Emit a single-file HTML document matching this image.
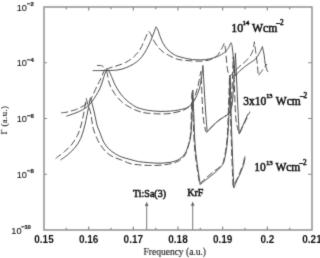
<!DOCTYPE html>
<html><head><meta charset="utf-8"><style>
html,body{margin:0;padding:0;background:#fff;}
body{width:320px;height:258px;overflow:hidden;}
svg{display:block;}
.sans{font-family:"Liberation Sans",sans-serif;font-size:10px;fill:#111;font-weight:bold;}
.ex{font-size:6px;stroke:#222;stroke-width:0.2px;}
.yl{font-weight:normal;font-size:9.2px;stroke:#222;stroke-width:0.12px;}
.serif{font-family:"Liberation Serif",serif;fill:#111;stroke:#111;stroke-width:0.5px;}
svg{filter:grayscale(1);}
</style></head><body>
<svg width="320" height="258" viewBox="0 0 320 258">
<defs><filter id="bl" x="-5%" y="-5%" width="110%" height="110%"><feConvolveMatrix order="3" kernelMatrix="0.0144 0.0912 0.0144 0.0912 0.5776 0.0912 0.0144 0.0912 0.0144" divisor="1" edgeMode="duplicate"/></filter></defs>
<rect x="0" y="0" width="320" height="258" fill="#fff"/>
<g filter="url(#bl)">
<rect x="44" y="7" width="268" height="223" fill="none" stroke="#8a8a8a" stroke-width="1.4"/>
<path d="M66.33 230 V227.80 M66.33 7 V9.20 M88.67 230 V226.50 M88.67 7 V10.50 M111.00 230 V227.80 M111.00 7 V9.20 M133.33 230 V226.50 M133.33 7 V10.50 M155.67 230 V227.80 M155.67 7 V9.20 M178.00 230 V226.50 M178.00 7 V10.50 M200.33 230 V227.80 M200.33 7 V9.20 M222.67 230 V226.50 M222.67 7 V10.50 M245.00 230 V227.80 M245.00 7 V9.20 M267.33 230 V226.50 M267.33 7 V10.50 M289.67 230 V227.80 M289.67 7 V9.20 M44 62.75 H47 M312 62.75 H308 M44 118.50 H47 M312 118.50 H308 M44 174.25 H47 M312 174.25 H308" stroke="#8a8a8a" stroke-width="1.2" fill="none"/>
<g class="sans"><text x="44.00" y="242.5" text-anchor="middle">0.15</text><text x="88.67" y="242.5" text-anchor="middle">0.16</text><text x="133.33" y="242.5" text-anchor="middle">0.17</text><text x="178.00" y="242.5" text-anchor="middle">0.18</text><text x="222.67" y="242.5" text-anchor="middle">0.19</text><text x="267.33" y="242.5" text-anchor="middle">0.2</text><text x="312.00" y="242.5" text-anchor="middle">0.21</text><text x="26.90" y="10.60" text-anchor="end" class="yl">10</text><text x="27.10" y="6.00" class="ex">&#8722;2</text><text x="26.90" y="66.35" text-anchor="end" class="yl">10</text><text x="27.10" y="61.75" class="ex">&#8722;4</text><text x="26.90" y="122.10" text-anchor="end" class="yl">10</text><text x="27.10" y="117.50" class="ex">&#8722;6</text><text x="26.90" y="177.85" text-anchor="end" class="yl">10</text><text x="27.10" y="173.25" class="ex">&#8722;8</text><text x="21.60" y="233.60" text-anchor="end" class="yl">10</text><text x="21.30" y="229.00" class="ex" letter-spacing="-0.3">&#8722;10</text></g>
<path d="M92.8 70.6 C95.3 70.6 103.8 70.6 108.0 70.5 C112.2 70.4 115.0 70.4 118.0 69.9 C121.0 69.5 123.2 68.8 125.8 67.8 C128.4 66.8 131.2 65.4 133.5 64.0 C135.8 62.6 137.9 61.1 139.7 59.3 C141.5 57.5 143.0 55.3 144.4 53.1 C145.8 50.9 147.0 48.8 148.3 46.1 C149.6 43.4 151.1 39.9 152.4 36.7 C153.7 33.5 155.4 28.5 156.0 26.8 C156.3 27.3 157.1 28.1 157.8 29.8 C158.5 31.4 159.3 34.4 160.2 36.7 C161.1 39.0 162.0 41.5 163.3 43.7 C164.6 45.9 166.1 48.1 167.9 49.9 C169.7 51.7 172.1 53.4 174.1 54.6 C176.1 55.8 177.5 56.2 180.0 56.9 C182.5 57.6 186.3 58.5 189.0 59.0 C191.7 59.5 193.2 59.7 196.0 59.8 C198.8 59.9 202.5 60.0 205.7 59.6 C208.9 59.2 212.5 58.3 215.4 57.3 C218.3 56.3 221.1 54.8 223.2 53.4 C225.3 52.0 226.9 50.0 228.0 48.6 C229.1 47.2 229.3 46.0 229.8 45.0 C230.3 44.0 230.8 43.1 231.0 42.7 C231.2 43.2 231.7 43.8 232.0 45.6 C232.3 47.4 232.6 50.5 232.9 53.4 C233.2 56.3 233.5 59.3 233.9 63.1 C234.3 66.9 235.2 73.8 235.5 76.0 C235.9 75.5 237.1 73.8 238.0 72.8 C238.9 71.8 239.7 70.9 241.0 69.8 C242.3 68.7 244.1 67.2 245.7 66.0 C247.3 64.8 248.9 63.7 250.5 62.6 C252.1 61.5 253.9 60.7 255.4 59.2 C256.9 57.7 258.4 54.9 259.3 53.4 C260.2 51.9 260.5 51.1 261.0 50.0 C261.5 48.9 262.2 47.2 262.4 46.6 C262.7 48.1 263.8 52.6 264.2 55.4 C264.6 58.1 264.6 60.7 265.1 63.1 C265.6 65.5 266.5 68.5 267.0 70.0 C267.5 71.5 268.0 71.7 268.2 72.0" fill="none" stroke="#4d4d4d" stroke-width="1"/>
<path d="M97.0 65.4 C97.8 65.5 100.4 65.4 101.5 65.7 C102.6 66.0 103.0 66.7 103.8 67.2 C104.5 67.8 105.2 68.8 106.0 69.0 C106.8 69.2 107.5 68.7 108.5 68.4 C109.5 68.1 110.4 67.7 112.0 67.2 C113.6 66.7 115.7 66.2 118.0 65.4 C120.3 64.6 123.2 63.8 125.8 62.4 C128.4 61.0 131.2 59.1 133.5 57.0 C135.8 54.9 138.0 52.5 139.7 50.0 C141.4 47.5 142.5 44.4 143.6 42.2 C144.7 40.0 145.3 38.3 146.0 36.8 C146.7 35.3 147.1 33.9 147.5 33.0 C147.9 32.1 148.2 31.5 148.6 31.5 C149.0 31.5 149.5 32.0 150.0 32.8 C150.5 33.5 150.8 34.4 151.6 36.0 C152.4 37.6 153.5 40.3 154.7 42.2 C155.9 44.1 157.2 45.9 158.6 47.6 C160.0 49.3 161.6 50.9 163.3 52.2 C165.0 53.5 166.9 54.3 168.7 55.3 C170.5 56.3 172.2 57.2 174.1 58.0 C176.0 58.8 177.5 59.3 180.0 59.8 C182.5 60.2 185.8 60.5 189.0 60.7 C192.2 60.9 196.6 61.2 199.4 61.2 C202.2 61.2 204.0 60.9 206.0 60.6 C208.0 60.3 209.6 60.1 211.5 59.2 C213.4 58.3 215.8 57.0 217.4 55.4 C219.0 53.8 220.3 51.0 221.2 49.5 C222.1 48.0 222.3 47.5 222.8 46.5 C223.3 45.5 224.0 43.8 224.2 43.2 C224.4 44.2 225.0 45.1 225.5 49.4 C226.0 53.6 226.7 64.2 227.4 68.7 C228.1 73.2 229.2 75.2 229.6 76.5 C230.2 75.9 231.4 74.6 233.0 73.0 C234.6 71.4 237.2 68.6 238.9 67.0 C240.6 65.4 241.5 64.8 243.0 63.5 C244.5 62.2 246.4 60.5 247.7 59.2 C248.9 57.9 249.7 56.8 250.5 55.5 C251.3 54.2 252.0 52.9 252.5 51.5 C253.0 50.1 253.3 48.6 253.6 47.0 C253.9 45.4 254.3 42.7 254.4 41.8 C254.6 43.1 254.9 45.6 255.4 49.5 C255.9 53.4 256.9 60.6 257.4 65.0 C257.9 69.4 258.1 73.9 258.3 75.7 C259.0 74.8 261.1 72.0 262.5 70.0 C263.9 68.0 266.2 65.0 267.0 64.0" fill="none" stroke="#4d4d4d" stroke-width="1" stroke-dasharray="7 3"/>
<path d="M66.3 116.2 C67.3 115.8 70.3 114.9 72.5 114.1 C74.7 113.3 77.1 112.5 79.4 111.4 C81.7 110.3 84.2 108.9 86.3 107.3 C88.4 105.7 90.2 103.7 91.8 101.8 C93.4 99.8 94.6 97.7 95.9 95.6 C97.2 93.5 98.6 91.4 99.7 89.0 C100.8 86.6 101.7 83.6 102.6 81.0 C103.5 78.4 104.2 75.3 105.0 73.3 C105.8 71.3 107.1 69.9 107.5 69.2 C107.8 69.7 108.8 70.8 109.5 72.0 C110.2 73.2 110.9 75.2 111.5 76.5 C112.1 77.8 112.4 78.5 113.0 80.0 C113.6 81.5 114.1 83.1 115.3 85.3 C116.5 87.5 118.2 90.5 120.0 93.0 C121.8 95.5 124.1 98.0 126.2 100.0 C128.3 102.0 130.4 103.4 132.4 104.7 C134.4 106.0 135.3 106.8 138.0 107.8 C140.7 108.8 144.7 109.8 148.4 110.4 C152.1 111.0 156.3 111.3 160.0 111.4 C163.7 111.5 167.5 111.3 170.6 111.1 C173.7 110.9 175.8 110.5 178.4 110.0 C181.0 109.5 184.2 108.9 186.2 108.0 C188.3 107.1 189.7 106.0 191.0 104.8 C192.3 103.6 193.0 102.7 194.0 101.0 C195.0 99.3 196.3 96.9 197.2 94.7 C198.1 92.5 198.8 90.8 199.5 88.0 C200.2 85.2 200.9 81.8 201.5 78.0 C202.1 74.2 202.7 67.5 202.9 65.4 C203.1 68.7 203.6 77.6 204.0 85.0 C204.4 92.4 205.0 102.2 205.5 110.0 C206.0 117.8 206.9 128.3 207.2 132.0 C207.8 131.2 209.5 129.2 211.1 127.5 C212.7 125.8 215.1 123.5 217.0 121.8 C218.9 120.1 220.9 119.0 222.8 117.6 C224.7 116.2 227.1 115.7 228.6 113.6 C230.1 111.5 231.1 110.6 232.0 105.0 C232.9 99.4 233.4 88.7 234.0 80.0 C234.6 71.3 235.2 57.5 235.4 53.0 C235.6 56.7 236.1 67.8 236.4 75.0 C236.7 82.2 237.0 89.3 237.3 96.0 C237.6 102.7 237.9 108.7 238.2 115.0 C238.5 121.3 239.0 130.8 239.2 134.0 C239.9 132.3 242.0 127.3 243.5 124.0 C245.0 120.7 247.2 115.7 248.0 114.0" fill="none" stroke="#4d4d4d" stroke-width="1"/>
<path d="M61.3 112.8 C62.1 112.7 64.5 112.5 66.0 112.3 C67.5 112.0 68.2 111.8 70.0 111.3 C71.8 110.8 74.3 110.2 76.6 109.3 C78.8 108.4 81.5 107.0 83.5 105.8 C85.5 104.6 87.3 103.4 88.5 102.3 C89.7 101.2 90.0 100.7 90.8 99.3 C91.6 97.9 92.3 96.1 93.4 93.8 C94.5 91.5 96.0 88.2 97.2 85.7 C98.4 83.2 99.5 81.4 100.6 79.0 C101.7 76.6 103.1 73.0 104.0 71.2 C104.9 69.5 105.7 69.0 106.0 68.5 C106.2 69.3 106.8 71.4 107.2 73.5 C107.7 75.6 108.1 78.8 108.7 81.0 C109.3 83.2 109.6 84.6 110.7 86.9 C111.8 89.2 113.5 92.1 115.3 94.6 C117.1 97.0 119.2 99.5 121.5 101.6 C123.8 103.7 126.6 105.4 129.3 107.0 C132.1 108.6 135.2 110.0 138.0 111.0 C140.8 112.0 142.5 112.5 146.0 113.0 C149.5 113.5 154.9 113.8 159.0 113.9 C163.1 114.0 166.6 114.0 170.6 113.4 C174.6 112.8 179.9 111.5 183.0 110.3 C186.1 109.1 187.7 108.0 189.4 106.4 C191.1 104.9 191.8 103.6 193.0 101.0 C194.2 98.4 195.7 94.2 196.7 91.0 C197.7 87.8 198.1 85.2 198.8 82.0 C199.5 78.8 200.5 73.2 200.8 71.5 C200.9 72.9 200.9 72.8 201.3 80.0 C201.7 87.2 202.3 106.5 203.0 115.0 C203.7 123.5 205.2 128.3 205.6 131.0 C205.9 131.2 206.3 132.6 207.2 132.0 C208.1 131.4 209.5 129.2 211.1 127.5 C212.7 125.8 215.1 123.5 217.0 121.8 C218.9 120.1 221.0 118.9 222.8 117.6 C224.6 116.3 226.6 115.9 228.0 114.0 C229.4 112.1 230.3 110.8 231.0 106.0 C231.7 101.2 231.8 93.2 232.2 85.0 C232.6 76.8 233.0 61.7 233.2 57.0 C233.4 62.5 234.0 79.5 234.5 90.0 C235.0 100.5 235.2 112.7 236.0 120.0 C236.8 127.3 238.8 131.4 239.4 133.7 C240.3 131.8 243.2 125.7 245.0 122.0 C246.8 118.3 249.1 113.3 249.9 111.6" fill="none" stroke="#4d4d4d" stroke-width="1" stroke-dasharray="7 3"/>
<path d="M60.4 160.0 C61.6 159.1 65.3 156.8 67.8 154.7 C70.3 152.6 73.2 149.9 75.3 147.2 C77.4 144.5 79.2 141.7 80.6 138.7 C82.0 135.7 82.9 132.1 83.8 129.1 C84.7 126.1 85.2 123.8 85.9 120.6 C86.6 117.4 87.2 113.8 88.0 110.0 C88.8 106.2 90.0 99.8 90.4 97.8 C90.7 99.0 91.8 102.4 92.4 104.8 C93.0 107.2 93.6 109.5 94.2 112.0 C94.8 114.5 95.4 117.7 95.9 120.0 C96.4 122.3 96.5 123.7 97.3 126.0 C98.1 128.3 99.4 131.4 100.5 134.1 C101.6 136.8 102.4 139.9 103.8 142.3 C105.2 144.8 106.8 146.9 108.7 148.8 C110.6 150.7 113.0 152.3 115.2 153.7 C117.4 155.1 119.2 156.1 121.7 157.0 C124.2 157.9 127.2 158.6 130.0 159.4 C132.8 160.2 135.6 161.1 138.7 161.6 C141.8 162.1 144.8 162.3 148.4 162.6 C152.0 162.9 156.1 163.3 160.0 163.2 C163.9 163.1 168.4 162.7 171.6 162.0 C174.8 161.3 177.1 160.5 179.4 159.0 C181.7 157.5 183.6 155.8 185.2 153.2 C186.8 150.6 188.0 146.7 189.0 143.5 C190.0 140.3 190.5 138.7 191.0 133.9 C191.5 129.2 191.7 122.3 192.0 115.0 C192.3 107.7 192.7 94.2 192.8 90.0 C193.0 94.2 193.4 105.0 193.8 115.0 C194.2 125.0 194.4 138.4 195.5 150.0 C196.6 161.6 199.4 178.8 200.2 184.5 C201.1 183.8 203.3 181.8 205.6 180.0 C207.9 178.2 211.4 175.7 214.0 173.4 C216.6 171.1 219.5 168.5 221.2 166.2 C223.0 164.0 223.4 164.4 224.4 160.0 C225.4 155.6 226.7 149.2 227.5 140.0 C228.3 130.8 228.9 115.8 229.3 105.0 C229.8 94.2 230.0 80.0 230.2 75.0 C230.3 80.8 230.7 97.5 231.0 110.0 C231.3 122.5 231.8 137.0 232.3 150.0 C232.8 163.0 233.5 181.7 233.8 188.0 C234.3 186.7 235.9 182.6 236.9 180.3 C237.9 178.0 238.8 176.8 240.0 174.0 C241.2 171.2 243.2 166.2 244.0 163.3 C244.8 160.4 244.8 157.5 245.0 156.3" fill="none" stroke="#4d4d4d" stroke-width="1"/>
<path d="M55.6 158.6 C55.9 158.3 56.0 158.2 57.5 157.0 C59.0 155.8 62.2 153.7 64.6 151.5 C67.0 149.3 70.0 146.7 72.1 144.0 C74.2 141.3 76.0 138.3 77.4 135.5 C78.8 132.7 79.7 129.8 80.6 127.0 C81.5 124.2 82.0 121.6 82.7 118.5 C83.4 115.4 84.0 111.9 84.6 108.5 C85.2 105.1 86.0 100.0 86.3 98.3 C86.6 99.4 87.3 102.8 88.0 105.0 C88.7 107.2 89.7 109.2 90.3 111.4 C90.9 113.6 91.2 115.8 91.5 118.0 C91.8 120.2 92.0 122.2 92.4 124.4 C92.8 126.6 93.1 128.3 94.0 131.0 C94.9 133.7 96.7 138.0 98.0 140.7 C99.3 143.4 100.6 145.2 102.1 147.2 C103.6 149.2 105.1 151.3 107.0 152.9 C108.9 154.5 111.0 155.8 113.5 157.0 C116.0 158.2 119.0 159.1 121.7 160.2 C124.5 161.3 127.2 162.7 130.0 163.5 C132.8 164.3 135.6 164.5 138.7 164.8 C141.8 165.1 144.8 165.3 148.4 165.4 C152.0 165.5 156.1 165.5 160.0 165.2 C163.9 164.9 168.4 164.3 171.6 163.5 C174.8 162.7 177.2 161.9 179.4 160.5 C181.6 159.1 183.5 157.6 185.0 155.0 C186.5 152.4 187.6 148.5 188.5 145.0 C189.4 141.5 190.0 139.0 190.5 134.0 C191.0 129.0 191.1 122.0 191.3 115.0 C191.6 108.0 191.9 95.8 192.0 92.0 C192.2 95.8 192.5 105.3 193.0 115.0 C193.5 124.7 193.7 138.5 194.8 150.0 C195.9 161.5 198.7 178.3 199.5 184.0 C200.4 183.2 202.8 181.0 205.0 179.0 C207.2 177.0 210.3 174.2 213.0 172.0 C215.7 169.8 219.2 168.0 221.0 166.0 C222.8 164.0 222.8 164.3 223.8 160.0 C224.8 155.7 226.2 149.2 227.0 140.0 C227.8 130.8 228.2 115.5 228.6 105.0 C229.0 94.5 229.3 81.7 229.5 77.0 C229.6 82.5 230.0 97.8 230.3 110.0 C230.7 122.2 231.2 137.3 231.6 150.0 C232.0 162.7 232.8 180.0 233.0 186.0 C233.6 185.0 235.4 182.1 236.5 180.0 C237.6 177.9 238.3 176.4 239.5 173.5 C240.7 170.6 242.7 165.2 243.5 162.5 C244.3 159.8 244.3 157.9 244.5 157.0" fill="none" stroke="#4d4d4d" stroke-width="1" stroke-dasharray="7 3"/>
<g stroke="#777" stroke-width="1" fill="none"><path d="M146.7 204 V230"/><path d="M192.7 204 V230"/></g>
<g fill="#666"><path d="M146.7 201.8 L144.9 206 L148.5 206Z"/><path d="M192.7 201.6 L190.9 205.8 L194.5 205.8Z"/></g>
<g class="serif">
<text x="133" y="196.6" font-size="10">Ti:Sa(3)</text>
<text x="187.3" y="196.3" font-size="10">KrF</text>
<text x="143.5" y="254.5" font-size="9.5" style="stroke-width:0.12px">Frequency (a.u.)</text>
<text transform="translate(7.3,134.6) rotate(-90)" font-size="8.8" letter-spacing="0.4" style="stroke-width:0.12px">&#915; (a.u.)</text>
<text x="231.3" y="31.6" font-size="12">10</text><text x="242.6" y="24.6" font-size="7" letter-spacing="-0.3">14</text><text x="252" y="31.6" font-size="11.7">Wcm</text><text x="276.3" y="24.6" font-size="7.2">&#8211;2</text>
<text x="243.2" y="104.5" font-size="11.5">3x10</text><text x="265.9" y="98" font-size="7" letter-spacing="-0.3">13</text><text x="275.8" y="104.5" font-size="11.5">Wcm</text><text x="299.9" y="98.3" font-size="7.2">&#8211;2</text>
<text x="254.2" y="171.3" font-size="11.5">10</text><text x="266" y="164.6" font-size="7" letter-spacing="-0.3">13</text><text x="275.4" y="171.3" font-size="11.5">Wcm</text><text x="299.3" y="165" font-size="7.2">&#8211;2</text>
</g>
</g>
</svg>
</body></html>
